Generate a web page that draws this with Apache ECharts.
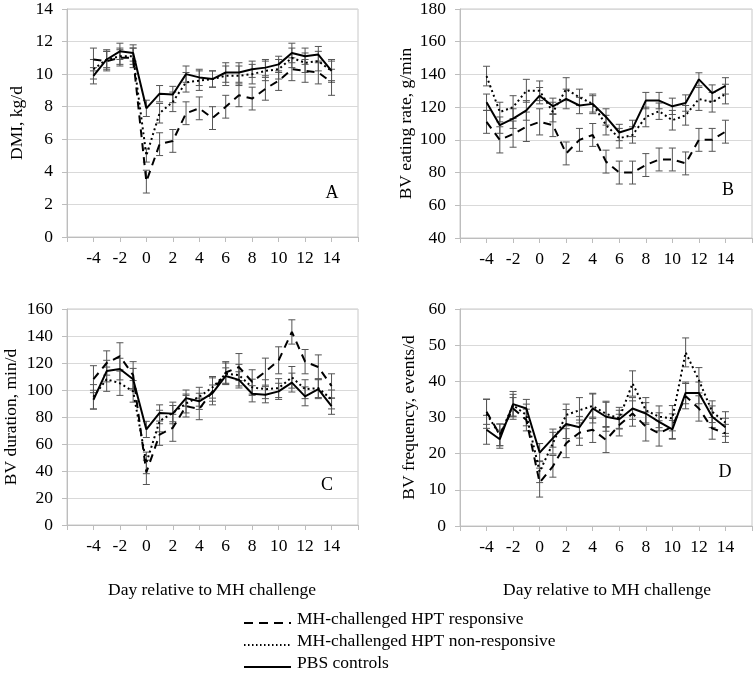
<!DOCTYPE html>
<html>
<head>
<meta charset="utf-8">
<script src="https://cdn.jsdelivr.net/npm/echarts@6/dist/echarts.min.js"></script>
<style>
html,body{margin:0;padding:0;background:#fff;}
#chart{width:755px;height:682px;}
</style>
</head>
<body>
<div id="chart"></div>
<script>
// ---- Data ----
var days = [-4,-3,-2,-1,0,1,2,3,4,5,6,7,8,9,10,11,12,13,14];
var seriesNames = ['MH-challenged HPT responsive','MH-challenged HPT non-responsive','PBS controls'];
var xTickLabels = ['-4','-2','0','2','4','6','8','10','12','14'];

// Panel A: DMI, kg/d
var dmiResp   = [10.9,10.8,11.0,11.0,3.4,5.7,5.9,7.6,7.9,7.3,8.0,8.7,8.5,9.1,9.6,10.3,10.2,10.1,9.5];
var dmiNonResp= [10.3,10.9,11.1,11.1,5.0,7.6,8.3,9.5,9.6,9.7,9.9,9.9,10.0,10.2,10.3,11.0,10.7,10.8,10.2];
var dmiPBS    = [9.9,10.9,11.4,11.3,7.9,8.8,8.75,10.0,9.8,9.7,10.1,10.1,10.3,10.4,10.6,11.3,11.1,11.2,10.2];
var dmiRespSE   = [0.7,0.6,0.5,0.6,0.7,0.7,0.7,0.7,0.7,0.7,0.7,0.7,0.7,0.7,0.6,0.7,0.7,0.7,0.8];
var dmiNonRespSE= [0.6,0.5,0.5,0.5,0.4,0.6,0.6,0.6,0.6,0.5,0.6,0.6,0.6,0.6,0.6,0.6,0.6,0.6,0.6];
var dmiPBSSE    = [0.5,0.6,0.5,0.5,0.5,0.5,0.5,0.5,0.5,0.5,0.6,0.6,0.5,0.5,0.5,0.6,0.5,0.5,0.7];

// Panel B: BV eating rate, g/min
var erResp    = [111,100,103.5,108,111,109,91.7,100,103,86.7,80,80,84.6,88,88,85.6,100,100,105];
var erNonResp = [139,117,120,130,130,117,131,126,122,109,101,103,114,117.5,112,115,125,123,128];
var erPBS     = [123,109,113,118,127,120.5,125,121,122,114,104.5,107,124,124,120.5,122.5,137,128.6,133];
var erRespSE    = [7,8,8,9,8,7,7,7,7,7,7,7,7,7,7,7,7,7,7];
var erNonRespSE = [6,6,7,7,6,6,7,5,6,6,6,5,6,5,6,6,7,6,6];
var erPBSSE     = [5,5,6,6,5,5,6,5,5,5,5,5,5,5,5,5,4,5,5];

// Panel C: BV duration, min/d
var durResp    = [108,120,125,111,39,67,72,88,86,99,113,117,106,113.6,122,143,121,117,103];
var durNonResp = [95,108,105,99,46,77,83,90,95,102,112,111,102,100.6,101.4,109.4,100.6,101.4,93];
var durPBS     = [92.8,114,115.5,108,70.8,83,82.5,94,91.6,97.7,110.4,107.5,97.2,96.5,99,105.5,95.3,100.6,88];
var durRespSE    = [10,9,10,10,9,8,10,8,8,10,8,10,9,10,10,9,9,9,9];
var durNonRespSE = [9,9,9,8,8,8,8,7,7,8,8,8,6,7,7,8,7,7,7];
var durPBSSE     = [7,8,8,8,6,6,6,6,6,6,6,6,6,6,6,7,7,7,6];

// Panel D: BV frequency, events/d
var frResp    = [31.6,25.2,32.5,29.3,12.0,16.5,22.9,25.8,26.6,23.8,27.9,31.1,27.5,25.6,27.5,35.9,32.5,27.0,25.6];
var frNonResp = [31.0,25.2,33.4,30.7,15.0,22.9,30.7,32.0,33.2,31.0,29.8,39.4,32.0,30.2,29.8,48.0,40.3,31.6,28.6];
var frPBS     = [26.6,24.0,33.7,32.5,20.3,24.3,28.2,27.3,32.5,30.2,29.5,32.5,31.1,28.8,26.7,36.8,36.8,30.2,27.3];
var frRespSE    = [3.5,3,3,3,4,3,4,3.5,3.5,3.5,3,3.5,4,3.5,3.5,3.5,3.5,3,2.5];
var frNonRespSE = [4,3,3,3,3,3,3,3.5,3.5,3.5,3,3.5,3.5,3,3.5,4,3.5,3,3];
var frPBSSE     = [4,2.5,3.5,2.5,2.5,2.5,4,3,4,4,2.5,3,3,2.5,2.5,3,3,3,2.5];

var panels = [
  {name:'DMI, kg/d', letter:'A', min:0, max:14, interval:2, nameGap:41,
   data:[dmiResp,dmiNonResp,dmiPBS], se:[dmiRespSE,dmiNonRespSE,dmiPBSSE]},
  {name:'BV eating rate, g/min', letter:'B', min:40, max:180, interval:20, nameGap:45,
   data:[erResp,erNonResp,erPBS], se:[erRespSE,erNonRespSE,erPBSSE]},
  {name:'BV duration, min/d', letter:'C', min:0, max:160, interval:20, nameGap:47,
   data:[durResp,durNonResp,durPBS], se:[durRespSE,durNonRespSE,durPBSSE]},
  {name:'BV frequency, events/d', letter:'D', min:0, max:60, interval:10, nameGap:42,
   data:[frResp,frNonResp,frPBS], se:[frRespSE,frNonRespSE,frPBSSE]}
];

// ---- Layout ----
var FONT = '"Liberation Serif", "Times New Roman", serif';
var FS = 17.5;
var gridBoxes = [
  {left:67, top:8, width:291, height:229},
  {left:460, top:8, width:292, height:230},
  {left:67, top:309, width:291, height:216},
  {left:460, top:309, width:292, height:217}
];

var lineStyles = [
  {type:[8,6], width:2},
  {type:[2,3], width:2},
  {type:'solid', width:2}
];

var chart = echarts.init(document.getElementById('chart'), null, {renderer:'canvas'});

var grids=[], xAxes=[], yAxes=[], series=[];
panels.forEach(function(p, i){
  grids.push(Object.assign({show:true, borderColor:'#c8c8c8', borderWidth:1, containLabel:false}, gridBoxes[i]));
  xAxes.push({
    type:'value', gridIndex:i, min:-6, max:16, interval:2,
    axisLine:{show:true, onZero:false, lineStyle:{color:'#bdbdbd', width:1}},
    axisTick:{show:true, inside:false, length:5, lineStyle:{color:'#bdbdbd'}},
    splitLine:{show:false},
    axisLabel:{
      color:'#000', fontFamily:FONT, fontSize:FS, margin:12,
      formatter:function(v){ var s=String(v); return xTickLabels.indexOf(s)>=0 ? s : ''; }
    }
  });
  yAxes.push({
    type:'value', gridIndex:i, min:p.min, max:p.max, interval:p.interval,
    name:p.name, nameLocation:'middle', nameGap:p.nameGap,
    nameTextStyle:{color:'#000', fontFamily:FONT, fontSize:FS},
    axisLine:{show:true, onZero:false, lineStyle:{color:'#bdbdbd'}},
    axisTick:{show:true, inside:false, length:5, lineStyle:{color:'#bdbdbd'}},
    splitLine:{show:true, lineStyle:{color:'#d9d9d9', width:1}},
    axisLabel:{color:'#000', fontFamily:FONT, fontSize:FS, margin:14}
  });
  // error bars
  p.data.forEach(function(vals, s){
    var se = p.se[s];
    var d = days.map(function(x, k){ return [x, vals[k], vals[k]-se[k], vals[k]+se[k]]; });
    series.push({
      type:'custom', xAxisIndex:i, yAxisIndex:i, z:1, silent:true,
      renderItem:function(params, api){
        var x = api.value(0);
        var lo = api.coord([x, api.value(2)]);
        var hi = api.coord([x, api.value(3)]);
        var st = {stroke:'#555', lineWidth:1};
        var c = 3.5;
        return {type:'group', children:[
          {type:'line', shape:{x1:lo[0], y1:lo[1], x2:hi[0], y2:hi[1]}, style:st},
          {type:'line', shape:{x1:lo[0]-c, y1:lo[1], x2:lo[0]+c, y2:lo[1]}, style:st},
          {type:'line', shape:{x1:hi[0]-c, y1:hi[1], x2:hi[0]+c, y2:hi[1]}, style:st}
        ]};
      },
      encode:{x:0, y:[1,2,3]},
      data:d
    });
  });
  // lines
  p.data.forEach(function(vals, s){
    series.push({
      type:'line', name:seriesNames[s], xAxisIndex:i, yAxisIndex:i, z:3,
      symbol:'none', animation:false,
      lineStyle:{color:'#000', width:lineStyles[s].width, type:lineStyles[s].type},
      data:days.map(function(x,k){ return [x, vals[k]]; })
    });
  });
});

// panel letters & axis titles & legend as graphics
var graphics = [];
var letterXY = [[332,193],[728,190],[327,485],[725,472]];
panels.forEach(function(p,i){
  graphics.push({type:'text', x:letterXY[i][0], y:letterXY[i][1],
    style:{text:p.letter, font:'18px '+FONT, fill:'#000', align:'center', verticalAlign:'middle'}});
});
graphics.push({type:'text', x:212, y:590, style:{text:'Day relative to MH challenge', font:FS+'px '+FONT, fill:'#000', align:'center', verticalAlign:'middle'}});
graphics.push({type:'text', x:607, y:590, style:{text:'Day relative to MH challenge', font:FS+'px '+FONT, fill:'#000', align:'center', verticalAlign:'middle'}});

var legendRows = [619, 641, 663];
var legendDash = [[9,6],[1.5,2.5],null];
seriesNames.forEach(function(n, s){
  var y = legendRows[s];
  graphics.push({type:'line', shape:{x1:244, y1:y+4, x2:291, y2:y+4},
    style:{stroke:'#000', lineWidth:2, lineDash:legendDash[s]}});
  graphics.push({type:'text', x:297, y:y, style:{text:n, font:FS+'px '+FONT, fill:'#000', verticalAlign:'middle'}});
});

chart.setOption({
  animation:false,
  backgroundColor:'#fff',
  grid:grids, xAxis:xAxes, yAxis:yAxes, series:series,
  graphic:graphics
});
</script>
</body>
</html>
